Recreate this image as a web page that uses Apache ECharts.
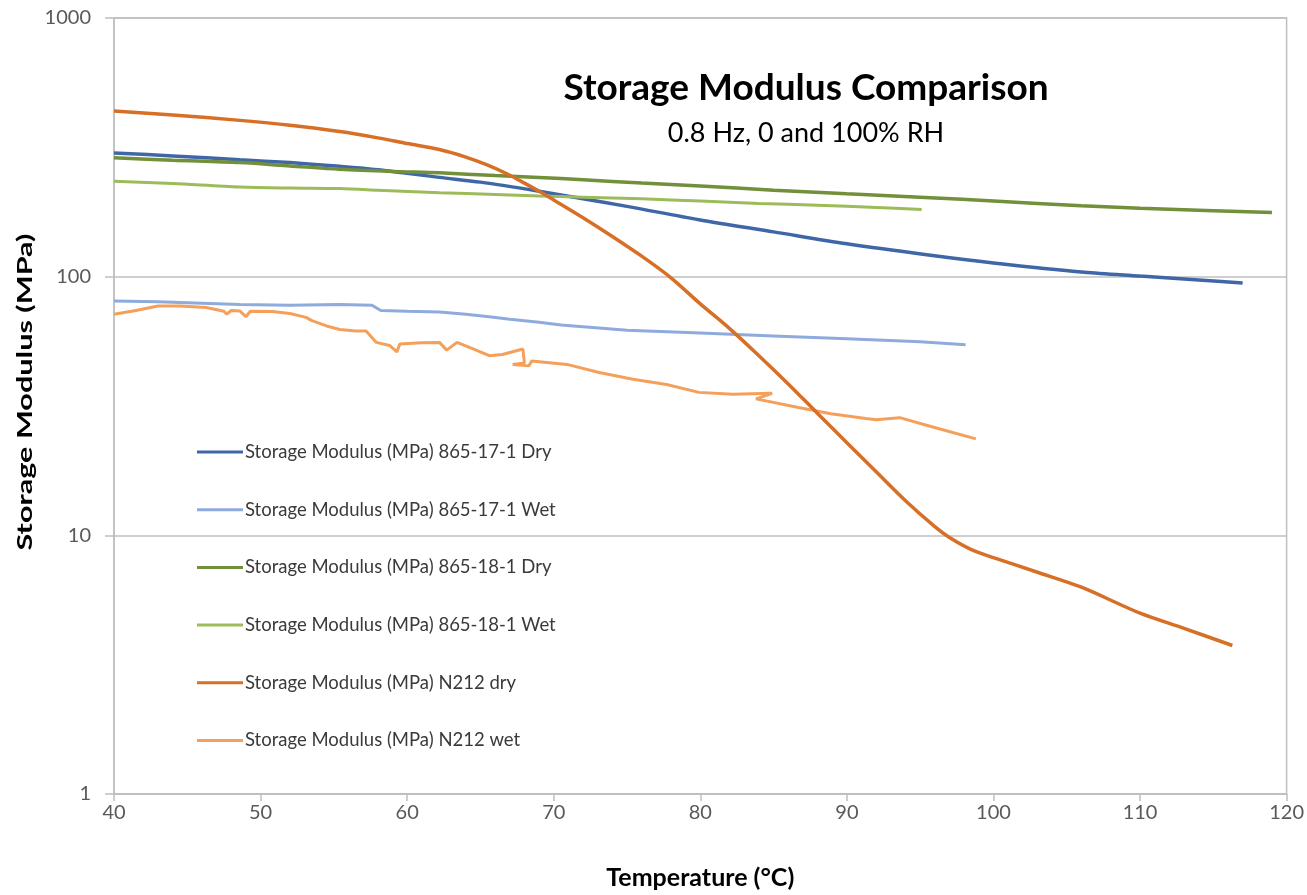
<!DOCTYPE html>
<html>
<head>
<meta charset="utf-8">
<script src="https://cdn.jsdelivr.net/npm/echarts@6/dist/echarts.min.js"></script>
<style>
  html, body { margin: 0; padding: 0; background: #fff; }
  #chart { width: 1307px; height: 895px; }
</style>
</head>
<body>
<div id="chart"></div>
<script>
// Storage modulus (MPa) versus temperature (°C), 0.8 Hz, dry (0% RH) and wet (100% RH)
const seriesNames = [
  'Storage Modulus (MPa) 865-17-1 Dry',
  'Storage Modulus (MPa) 865-17-1 Wet',
  'Storage Modulus (MPa) 865-18-1 Dry',
  'Storage Modulus (MPa) 865-18-1 Wet',
  'Storage Modulus (MPa) N212 dry',
  'Storage Modulus (MPa) N212 wet'
];

const dry17 = [
  [40, 301], [44, 293], [48.6, 283], [52, 276], [55.4, 267], [58, 259], [62.2, 242],
  [65, 232], [69, 214], [72, 200], [75, 187], [79.9, 166], [85, 149], [90, 134],
  [95.7, 121], [100, 113], [106.2, 104], [110, 100.5], [114, 97], [117, 94.5]
];

const wet17 = [
  [40, 80.5], [43, 80], [46, 79], [48.6, 78], [52, 77.5], [55.4, 78], [57.6, 77.5],
  [58.2, 74], [60, 73.5], [62.2, 73], [64, 71.5], [65.6, 70], [67, 68.5], [69, 66.6],
  [70.5, 65], [75, 62], [80, 60.5], [85, 59], [90, 57.5], [95, 56], [98.1, 54.5]
];

const dry18 = [
  [40, 288], [44, 282], [48.6, 276], [52, 268], [55.4, 260], [59, 255], [62.2, 252],
  [66, 246], [69, 242], [72, 237], [76, 230], [80, 224], [85, 216], [90, 209],
  [95.7, 202], [100, 196], [106, 188], [110, 184], [115, 180], [119, 177]
];

const wet18 = [
  [40, 234], [44, 229], [48.6, 222], [52, 220], [55.4, 219], [58, 216], [62.2, 211],
  [66, 208], [69, 205], [72, 203], [76, 200], [80, 196], [84, 192], [88, 189],
  [92, 185], [95.1, 182]
];

const dryN212 = [
  [40, 437], [44, 422], [48.6, 402], [52, 385], [55.4, 364], [58, 344], [60, 327],
  [62.2, 310], [64, 290], [65.5, 270], [66.8, 250], [68, 230], [69, 214], [70, 198],
  [72, 169], [74, 143], [76, 120], [78, 99], [80, 78.5], [82, 63], [84, 49.5],
  [86, 38.5], [88, 29.6], [90, 22.8], [92, 17.6], [94, 13.6], [96, 10.8], [97, 9.8],
  [98.5, 8.8], [100, 8.2], [103, 7.2], [106, 6.3], [110, 5.0], [113, 4.37], [116.3, 3.75]
];

// the wet N212 trace doubles back on itself in a few places
const wetN212 = [
  [40, 71.6], [41.5, 74], [43, 77], [44.5, 77], [46.3, 76], [47.5, 73.5], [47.7, 71.6],
  [48, 74], [48.6, 73.6], [49, 70], [49.3, 73.5], [50.8, 73.3], [52, 72], [53.1, 69.6],
  [53.5, 67.6], [54.5, 64.5], [55.4, 62.5], [56.5, 61.6], [57.2, 61.6], [57.9, 55.7],
  [58.8, 54.2], [59.3, 51.2], [59.5, 54.9], [61, 55.5], [62.2, 55.7], [62.7, 52],
  [63.4, 55.7], [64.5, 52.6], [65.6, 49.5], [66.5, 50], [67.9, 52.5], [68, 46.4],
  [67.2, 45.8], [68.3, 45.2], [68.5, 47.2], [70.9, 45.8], [73.1, 42.6], [75.4, 40.1],
  [77.7, 38.3], [79.9, 35.7], [82.2, 35.1], [84.9, 35.4], [83.8, 33.7], [86.7, 31.2],
  [88.9, 29.5], [91.3, 28.3], [92, 28], [93.6, 28.5], [95.8, 26.3], [98.8, 23.6]
];

const seriesData = [dry17, wet17, dry18, wet18, dryN212, wetN212];
const seriesColors = ['#3F67A8', '#8FAADC', '#728F3A', '#9CBB5A', '#D86F26', '#F4A05A'];
const seriesWidths = [3.5, 3, 3.5, 3, 3.5, 3];
const seriesSmooth = [0.3, false, 0.3, 0.3, 0.3, false];

const titleText = 'Storage Modulus Comparison';
const subtitleText = '0.8 Hz, 0 and 100% RH';
const xName = 'Temperature (°C)';
const yName = 'Storage Modulus (MPa)';

const FONT = 'Lato, "Liberation Sans", sans-serif';
const GRID_COLOR = '#BFBFBF';
const LABEL_COLOR = '#595959';

// stretch the vertical axis title along its length
function textWidth(text, font) {
  const ctx = document.createElement('canvas').getContext('2d');
  ctx.font = font;
  return ctx.measureText(text).width;
}
const yNameFont = 'bold 21px Lato';
const yNameStretch = 317 / textWidth(yName, yNameFont);

const chart = echarts.init(document.getElementById('chart'), null, { renderer: 'canvas' });

chart.setOption({
  backgroundColor: '#ffffff',
  animation: false,
  color: seriesColors,
  grid: {
    left: 114, right: 19, top: 18, bottom: 99,
    show: true, borderColor: GRID_COLOR, borderWidth: 1.5, backgroundColor: 'transparent'
  },
  legend: {
    orient: 'vertical',
    left: 197, top: 442,
    padding: 0,
    icon: 'rect',
    itemWidth: 46, itemHeight: 3,
    itemGap: 37.7,
    textStyle: { fontFamily: FONT, fontSize: 18.5, color: '#3A3A3A', lineHeight: 20, padding: [0, 0, 0, -3] },
    data: seriesNames
  },
  xAxis: {
    type: 'value',
    min: 40, max: 120, interval: 10,
    name: xName,
    nameLocation: 'middle',
    nameGap: 71,
    nameTextStyle: { fontFamily: FONT, fontSize: 25, fontWeight: 'bold', color: '#000' },
    axisLine: { show: true, lineStyle: { color: GRID_COLOR, width: 1.5 } },
    axisTick: { show: true, length: 7, lineStyle: { color: GRID_COLOR, width: 1.5 } },
    axisLabel: { fontFamily: FONT, fontSize: 20, color: LABEL_COLOR, margin: 9 },
    splitLine: { show: false }
  },
  yAxis: {
    type: 'log',
    logBase: 10,
    min: 1, max: 1000,
    axisLine: { show: true, lineStyle: { color: GRID_COLOR, width: 1.5 } },
    axisTick: { show: true, length: 9, lineStyle: { color: GRID_COLOR, width: 1.5 } },
    axisLabel: {
      fontFamily: FONT, fontSize: 20, color: LABEL_COLOR, margin: 23,
      formatter: (v) => String(Math.round(v))
    },
    splitLine: { show: true, lineStyle: { color: GRID_COLOR, width: 1.5 } },
    minorTick: { show: false }
  },
  graphic: [
    {
      type: 'text', x: 806, y: 88,
      style: {
        text: titleText, fontFamily: FONT, fontSize: 37, fontWeight: 'bold',
        fill: '#000', textAlign: 'center', textVerticalAlign: 'middle'
      }
    },
    {
      type: 'text', x: 806, y: 133,
      style: {
        text: subtitleText, fontFamily: FONT, fontSize: 27,
        fill: '#000', textAlign: 'center', textVerticalAlign: 'middle'
      }
    },
    {
      type: 'text', x: 25, y: 392,
      rotation: Math.PI / 2,
      scaleX: yNameStretch,
      style: {
        text: yName, font: yNameFont,
        fill: '#000', textAlign: 'center', textVerticalAlign: 'middle'
      }
    }
  ],
  series: seriesNames.map((name, i) => ({
    name: name,
    type: 'line',
    data: seriesData[i],
    showSymbol: false,
    symbol: 'none',
    smooth: seriesSmooth[i],
    lineStyle: { color: seriesColors[i], width: seriesWidths[i] },
    itemStyle: { color: seriesColors[i] },
    z: i === 4 ? 5 : 3
  }))
});
</script>
</body>
</html>
